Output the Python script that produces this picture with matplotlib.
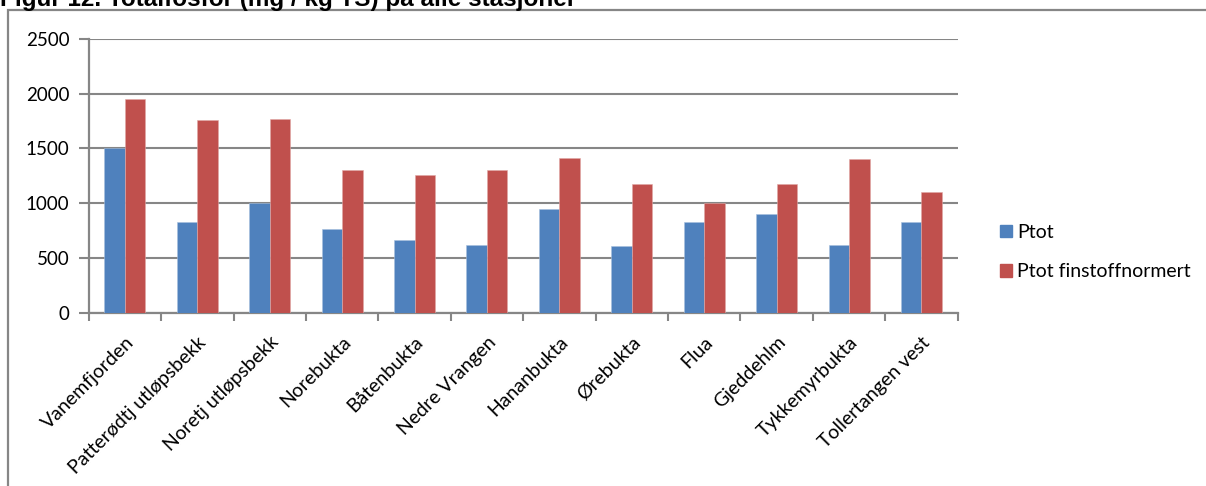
"""Grouped bar chart of total phosphorus per station."""

import matplotlib
matplotlib.use("Agg")
import matplotlib.pyplot as plt
import matplotlib.patches as mpatches
import matplotlib.transforms as mtransforms
import numpy as np

stations = [
    "Vanemfjorden", "Patterødtj utløpsbekk", "Noretj utløpsbekk", "Norebukta",
    "Båtenbukta", "Nedre Vrangen", "Hananbukta", "Ørebukta", "Flua",
    "Gjeddehlm", "Tykkemyrbukta", "Tollertangen vest",
]
ptot = [1500, 830, 1000, 760, 660, 620, 950, 610, 830, 900, 620, 825]
ptot_fin = [1955, 1760, 1765, 1300, 1255, 1305, 1415, 1175, 1000, 1180, 1405, 1100]
yticks = [0, 500, 1000, 1500, 2000, 2500]

BLUE = "#4F81BD"
RED = "#C0504D"
GRID = "#868686"
FONT = "Lato"

fig = plt.figure(figsize=(12.06, 4.86), dpi=100)
fig.patch.set_facecolor("white")

# outer chart frame, runs off the right and bottom edges
frame = mpatches.Rectangle((8 / 1206, -0.1), 1.2, 1 - 10 / 486 + 0.1,
                           transform=fig.transFigure, fill=False,
                           edgecolor=GRID, linewidth=1.6, zorder=0)
fig.patches.append(frame)

fig.text(0.0, 1 - 6 / 486, "Figur 12. Totalfosfor (mg / kg TS) på alle stasjoner",
         family="Liberation Sans", fontweight="bold", fontsize=17.5,
         ha="left", va="baseline")

ax = fig.add_axes([88.7 / 1206, 173.3 / 486, 869 / 1206, 273.7 / 486])

x = np.arange(len(stations))
w = 0.283
ax.bar(x - w / 2, ptot, width=w, color=BLUE, edgecolor="#A7C0DE", linewidth=0.4, zorder=3)
ax.bar(x + w / 2, ptot_fin, width=w, color=RED, edgecolor="#E0A8A6", linewidth=0.4, zorder=3)

ax.set_xlim(-0.5, len(stations) - 0.5)
ax.set_ylim(0, 2500)
ax.set_yticks(yticks)
ax.set_yticklabels([str(v) for v in yticks], family=FONT, fontsize=13.5)
ax.yaxis.grid(True, color=GRID, linewidth=1.5, zorder=0)
ax.set_axisbelow(True)

ax.set_xticks(np.arange(len(stations) + 1) - 0.5)
ax.set_xticklabels([])
ax.set_xticks(x, minor=True)
ax.set_xticklabels(stations, minor=True, family=FONT, fontsize=14,
                   rotation=45, ha="right", va="top", rotation_mode="anchor")
# nudge the slanted labels so their ends sit just right of each group
shift = mtransforms.ScaledTranslation(5 / 100, 0, fig.dpi_scale_trans)
for lbl in ax.get_xticklabels(minor=True):
    lbl.set_transform(lbl.get_transform() + shift)
ax.tick_params(axis="x", which="minor", length=0, pad=15)
ax.tick_params(axis="x", which="major", length=6, width=1.5, color=GRID)
ax.tick_params(axis="y", length=7, width=1.5, color=GRID, pad=7)

for side in ("top", "right"):
    ax.spines[side].set_visible(False)
for side in ("left", "bottom"):
    ax.spines[side].set_color(GRID)
    ax.spines[side].set_linewidth(1.6)

handles = [
    mpatches.Patch(color=BLUE, label="Ptot"),
    mpatches.Patch(color=RED, label="Ptot finstoffnormert"),
]
fig.legend(handles=handles, loc="center left",
           bbox_to_anchor=(982 / 1206, 1 - 252 / 486), frameon=False,
           prop={"family": FONT, "size": 14}, handlelength=0.62,
           handleheight=0.62, handletextpad=0.28, labelspacing=1.15)

fig.savefig("out.png", dpi=100, facecolor="white")
